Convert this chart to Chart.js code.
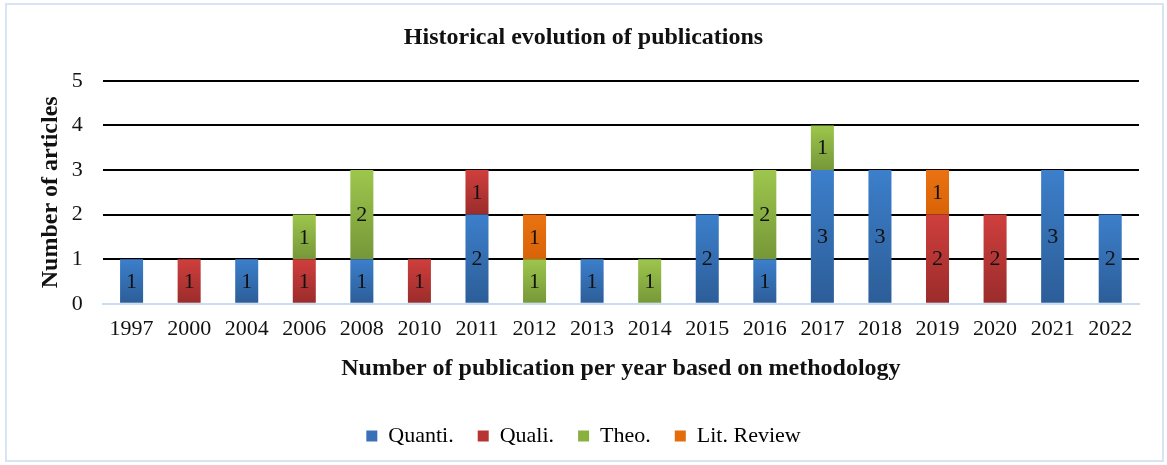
<!DOCTYPE html>
<html>
<head>
<meta charset="utf-8">
<script src="https://cdn.jsdelivr.net/npm/chart.js@4/dist/chart.umd.min.js"></script>
<style>
  html, body { margin: 0; padding: 0; background: #fff; }
  #wrap { position: relative; width: 1167px; height: 465px; }
  #frame { position: absolute; left: 5px; top: 3px; width: 1155px; height: 455px;
           border: 2px solid #d6e4f4; pointer-events: none; }
</style>
</head>
<body>
<div id="wrap">
  <canvas id="pubChart" width="1167" height="465"></canvas>
  <div id="frame"></div>
</div>
<script>
const years = ["1997", "2000", "2004", "2006", "2008", "2010", "2011", "2012", "2013",
  "2014", "2015", "2016", "2017", "2018", "2019", "2020", "2021", "2022"];
const quanti = [1, null, 1, null, 1, null, 2, null, 1, null, 2, 1, 3, 3, null, null, 3, 2];
const quali = [null, 1, null, 1, null, 1, 1, null, null, null, null, null, null, null, 2, 2, null, null];
const theo = [null, null, null, 1, 2, null, null, 1, null, 1, null, 2, 1, null, null, null, null, null];
const litReview = [null, null, null, null, null, null, null, 1, null, null, null, null, null, null, 1, null, null, null];
const yTicks = [0, 1, 2, 3, 4, 5];

const serif = "'Liberation Serif', 'Times New Roman', serif";

// top / bottom colours of each segment's gradient, plus legend swatch
const palette = [
  { top: "#3c7fcb", bottom: "#2c5d97", solid: "#3a70b8" },
  { top: "#cf3f3d", bottom: "#9a2c2b", solid: "#b83432" },
  { top: "#9dc64d", bottom: "#769738", solid: "#8ab040" },
  { top: "#ea7212", bottom: "#d86306", solid: "#e46c0a" }
];
const seriesData = [quanti, quali, theo, litReview];

function segmentFill(dsIndex) {
  return function (ctx) {
    const col = palette[dsIndex];
    if (ctx.type !== "data") return col.solid;
    const chart = ctx.chart;
    const y = chart.scales.y;
    if (!chart.chartArea || !y) return col.solid;
    let start = 0;
    for (let k = 0; k < dsIndex; k++) start += seriesData[k][ctx.dataIndex] || 0;
    const v = seriesData[dsIndex][ctx.dataIndex] || 0;
    const yTop = y.getPixelForValue(start + v);
    const yBot = y.getPixelForValue(start);
    if (!isFinite(yTop) || !isFinite(yBot) || yTop === yBot) return col.solid;
    const g = chart.ctx.createLinearGradient(0, yTop, 0, yBot);
    g.addColorStop(0, col.top);
    g.addColorStop(1, col.bottom);
    return g;
  };
}

const segmentLabels = {
  id: "segmentLabels",
  afterDatasetsDraw(chart) {
    const c = chart.ctx;
    c.save();
    c.font = "22px " + serif;
    c.fillStyle = "#111";
    c.textAlign = "center";
    c.textBaseline = "middle";
    chart.data.datasets.forEach((ds, i) => {
      const meta = chart.getDatasetMeta(i);
      meta.data.forEach((bar, j) => {
        const v = ds.data[j];
        if (!v) return;
        c.fillText(String(v), bar.x, (bar.y + bar.base) / 2 + 1);
      });
    });
    c.restore();
  }
};

const names = ["Quanti.", "Quali.", "Theo.", "Lit. Review"];

new Chart(document.getElementById("pubChart"), {
  type: "bar",
  data: {
    labels: years,
    datasets: seriesData.map((d, i) => ({
      label: names[i],
      data: d,
      backgroundColor: segmentFill(i),
      borderWidth: 0,
      barPercentage: 0.8,
      categoryPercentage: 0.5
    }))
  },
  options: {
    responsive: false,
    animation: false,
    layout: { padding: { left: 28, right: 28, top: 0, bottom: 8 } },
    scales: {
      x: {
        stacked: true,
        grid: { display: false, drawTicks: false },
        border: { display: true, color: "#c9dcf0", width: 2 },
        ticks: { color: "#111", font: { family: serif, size: 22 }, padding: 12, maxRotation: 0 },
        title: {
          display: true,
          text: "Number of publication per year based on methodology",
          color: "#111",
          font: { family: serif, size: 24, weight: "bold" },
          padding: { top: 0, bottom: 18 }
        }
      },
      y: {
        stacked: true,
        min: 0,
        max: 5,
        afterBuildTicks(axis) { axis.ticks = yTicks.map(v => ({ value: v })); },
        grid: { color: "#000", lineWidth: 2, drawTicks: false },
        border: { display: false },
        ticks: { color: "#111", font: { family: serif, size: 22 }, padding: 20 },
        title: {
          display: true,
          text: "Number of articles",
          color: "#111",
          font: { family: serif, size: 24, weight: "bold" },
          padding: { top: 8, bottom: -13 }
        }
      }
    },
    plugins: {
      title: {
        display: true,
        text: "Historical evolution of publications",
        color: "#111",
        font: { family: serif, size: 24, weight: "bold" },
        padding: { top: 23, bottom: 29 }
      },
      legend: {
        position: "bottom",
        labels: {
          color: "#111",
          font: { family: serif, size: 22 },
          boxWidth: 11,
          boxHeight: 11,
          padding: 24,
          generateLabels(chart) {
            return names.map((n, i) => ({
              text: n,
              fillStyle: palette[i].solid,
              strokeStyle: palette[i].solid,
              lineWidth: 0,
              datasetIndex: i
            }));
          }
        }
      },
      tooltip: { enabled: false }
    }
  },
  plugins: [segmentLabels]
});
</script>
</body>
</html>
